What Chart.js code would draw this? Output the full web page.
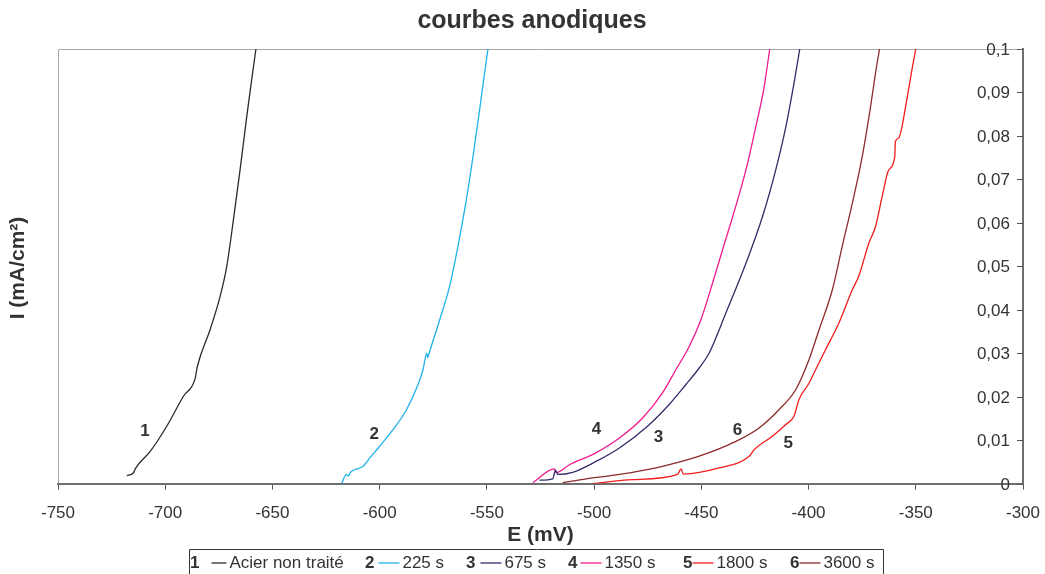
<!DOCTYPE html>
<html>
<head>
<meta charset="utf-8">
<script src="https://cdn.jsdelivr.net/npm/chart.js@4.4.1/dist/chart.umd.min.js"></script>
<style>
html,body{margin:0;padding:0;background:#fff;}
#wrap{width:1045px;height:574px;position:relative;}
</style>
</head>
<body>
<div id="wrap"><canvas id="c" width="1045" height="574"></canvas></div>
<script>
// ---- data ----
const chartTitle = 'courbes anodiques';
const xTitle = 'E (mV)';
const yTitle = 'I (mA/cm²)';
const seriesNumbers = ['1', '2', '3', '4', '5', '6'];
const seriesNames = ['Acier non traité', '225 s', '675 s', '1350 s', '1800 s', '3600 s'];
const seriesColors = ['#2b2b2b', '#1fb1ea', '#2e2e6b', '#ee1b8c', '#f21d1d', '#8e2b2b'];

const xTickValues = [-750, -700, -650, -600, -550, -500, -450, -400, -350, -300];
const yTickLabels = ['0', '0,01', '0,02', '0,03', '0,04', '0,05', '0,06', '0,07', '0,08', '0,09', '0,1'];

const e1 = [-717.9, -714.8, -714.0, -707.0, -699.3, -691.5, -686.1, -685.0, -679.1, -674.4, -671.3, -668.2, -665.1, -662.0, -659.7, -657.7];
const i1 = [0.0018, 0.0025, 0.0034, 0.0074, 0.0132, 0.0201, 0.0241, 0.0270, 0.0354, 0.0431, 0.0500, 0.0607, 0.0722, 0.0844, 0.0929, 0.1000];

const e2 = [-617.8, -615.5, -614.7, -613.6, -607.7, -604.6, -600.0, -593.8, -587.5, -582.1, -579.8, -578.0, -577.6, -576.7, -572.0, -567.4, -563.5, -559.6, -556.5, -553.4, -551.1, -549.5];
const i2 = [0.0000, 0.0021, 0.0017, 0.0026, 0.0040, 0.0059, 0.0086, 0.0124, 0.0170, 0.0228, 0.0262, 0.0300, 0.0290, 0.0304, 0.0377, 0.0454, 0.0546, 0.0653, 0.0752, 0.0860, 0.0944, 0.1000];

const e3 = [-525.5, -519.3, -518.0, -516.9, -510.0, -499.1, -488.2, -475.1, -465.0, -457.2, -451.0, -446.4, -438.6, -429.2, -421.5, -415.3, -410.6, -406.8, -404.1];
const i3 = [0.0008, 0.0011, 0.0031, 0.0021, 0.0026, 0.0051, 0.0082, 0.0132, 0.0182, 0.0228, 0.0266, 0.0300, 0.0392, 0.0507, 0.0614, 0.0722, 0.0821, 0.0921, 0.1000];

const e4 = [-528.6, -518.5, -517.7, -511.3, -499.9, -488.2, -477.4, -468.1, -461.9, -455.6, -450.2, -444.8, -440.1, -435.4, -429.2, -424.6, -420.7, -418.1];
const i4 = [0.0002, 0.0034, 0.0025, 0.0044, 0.0069, 0.0105, 0.0151, 0.0209, 0.0262, 0.0316, 0.0377, 0.0461, 0.0538, 0.0614, 0.0722, 0.0821, 0.0913, 0.1000];

const e5 = [-500.7, -482.0, -461.1, -459.5, -458.4, -441.7, -427.7, -425.4, -416.9, -410.6, -406.8, -404.5, -399.8, -396.7, -392.1, -385.9, -379.6, -376.6, -371.9, -368.8, -365.7, -362.6, -359.8, -359.5, -358.0, -354.2, -351.8, -350.0];
const i5 = [0.0000, 0.0009, 0.0021, 0.0034, 0.0022, 0.0036, 0.0063, 0.0078, 0.0109, 0.0136, 0.0155, 0.0193, 0.0231, 0.0262, 0.0308, 0.0369, 0.0446, 0.0477, 0.0553, 0.0591, 0.0660, 0.0722, 0.0752, 0.0787, 0.0795, 0.0883, 0.0952, 0.1000];

const e6 = [-514.6, -503.7, -488.2, -469.6, -451.0, -433.9, -423.1, -413.8, -406.0, -399.8, -395.1, -388.9, -384.3, -379.6, -375.0, -371.1, -368.8, -366.9];
const i6 = [0.0002, 0.0011, 0.0021, 0.0038, 0.0063, 0.0097, 0.0128, 0.0170, 0.0216, 0.0285, 0.0354, 0.0446, 0.0546, 0.0645, 0.0752, 0.0867, 0.0944, 0.1000];

// curve number labels placed beside the curves (data coordinates)
const curveLabelE = [-709.4, -602.5, -470.0, -498.9, -409.5, -433.2];
const curveLabelI = [0.0120, 0.0113, 0.0106, 0.0126, 0.0092, 0.0122];

// ---- build ----
const allE = [e1, e2, e3, e4, e5, e6];
const allI = [i1, i2, i3, i4, i5, i6];
const FONT = '"Liberation Sans", Arial, sans-serif';
const TXT = '#333333';

// legend layout (style only)
const legendItemX = [190, 365, 466, 568, 683, 790];
const legendGap = [12, 4, 5, 3, 0, 0];
const legendLineLen = [15, 21, 21, 21, 21, 21];

const datasets = allE.map((es, k) => ({
  label: seriesNames[k],
  data: es.map((e, j) => ({x: e, y: allI[k][j]})),
  borderColor: seriesColors[k],
  backgroundColor: seriesColors[k],
  borderWidth: 1.3,
  pointRadius: 0,
  showLine: true,
  cubicInterpolationMode: 'monotone',
  fill: false
}));

const decorPlugin = {
  id: 'decor',
  beforeDatasetsDraw(chart) {
    const {ctx, chartArea: a} = chart;
    ctx.save();
    ctx.strokeStyle = '#a8a8a8';
    ctx.lineWidth = 1;
    ctx.beginPath();
    ctx.moveTo(a.left + 0.5, a.bottom);
    ctx.lineTo(a.left + 0.5, a.top + 0.5);
    ctx.lineTo(a.right, a.top + 0.5);
    ctx.stroke();
    ctx.restore();
  },
  afterDraw(chart) {
    const {ctx, chartArea: a} = chart;
    const ys = chart.scales.y;
    const xs = chart.scales.x;
    ctx.save();
    // inward y tick marks and y tick labels
    ctx.strokeStyle = '#555';
    ctx.lineWidth = 1;
    ctx.fillStyle = TXT;
    ctx.font = '17px ' + FONT;
    ctx.textAlign = 'right';
    ctx.textBaseline = 'middle';
    ys.ticks.forEach((t, idx) => {
      const py = Math.round(ys.getPixelForTick(idx)) + 0.5;
      ctx.beginPath();
      ctx.moveTo(a.right - 6, py);
      ctx.lineTo(a.right, py);
      ctx.stroke();
      ctx.fillText(yTickLabels[idx], a.right - 13, py + 1);
    });
    // title
    ctx.textAlign = 'center';
    ctx.font = 'bold 25px ' + FONT;
    ctx.fillText(chartTitle, 532, 21);
    // x title
    ctx.font = 'bold 21px ' + FONT;
    ctx.fillText(xTitle, (a.left + a.right) / 2, 535);
    // y title
    ctx.save();
    ctx.translate(18, 268);
    ctx.rotate(-Math.PI / 2);
    ctx.fillText(yTitle, 0, 0);
    ctx.restore();
    // curve number labels
    ctx.font = 'bold 17px ' + FONT;
    curveLabelE.forEach((e, k) => {
      ctx.fillText(seriesNumbers[k], xs.getPixelForValue(e), ys.getPixelForValue(curveLabelI[k]));
    });
    // legend
    const lx0 = 189, ly0 = 549.5, lx1 = 883;
    ctx.strokeStyle = '#333';
    ctx.lineWidth = 1;
    ctx.beginPath();
    ctx.moveTo(lx0 + 0.5, 580);
    ctx.lineTo(lx0 + 0.5, ly0);
    ctx.lineTo(lx1 + 0.5, ly0);
    ctx.lineTo(lx1 + 0.5, 580);
    ctx.stroke();
    const ty = 563;
    ctx.textAlign = 'left';
    ctx.textBaseline = 'middle';
    seriesNumbers.forEach((n, k) => {
      let x = legendItemX[k];
      ctx.font = 'bold 17px ' + FONT;
      ctx.fillStyle = TXT;
      ctx.fillText(n, x, ty);
      x += ctx.measureText(n).width + legendGap[k];
      const len = legendLineLen[k];
      ctx.strokeStyle = seriesColors[k];
      ctx.lineWidth = 1.3;
      ctx.beginPath();
      ctx.moveTo(x, ty);
      ctx.lineTo(x + len, ty);
      ctx.stroke();
      x += len + 3;
      ctx.font = '17px ' + FONT;
      ctx.fillStyle = TXT;
      ctx.fillText(seriesNames[k], x, ty);
    });
    ctx.restore();
  }
};

new Chart(document.getElementById('c'), {
  type: 'scatter',
  data: {datasets},
  options: {
    responsive: false,
    animation: false,
    events: [],
    layout: {padding: {left: 58, right: 22, top: 49, bottom: 36}},
    plugins: {legend: {display: false}, title: {display: false}, tooltip: {enabled: false}},
    scales: {
      x: {
        type: 'linear',
        min: -750, max: -300,
        afterBuildTicks(scale) { scale.ticks = xTickValues.map(v => ({value: v})); },
        afterFit(scale) { scale.paddingLeft = 0; scale.paddingRight = 0; },
        ticks: {
          color: TXT, font: {family: FONT, size: 17}, padding: 14,
          callback: v => String(v)
        },
        grid: {drawOnChartArea: false, drawTicks: true, tickLength: 6, color: '#555', lineWidth: 1},
        border: {display: true, color: '#6e6e6e', width: 2}
      },
      y: {
        type: 'linear',
        position: 'right',
        min: 0, max: 0.1,
        afterFit(scale) { scale.width = 0; scale.paddingTop = 0; scale.paddingBottom = 0; },
        ticks: {stepSize: 0.01, display: false},
        grid: {drawOnChartArea: false, drawTicks: false},
        border: {display: true, color: '#6e6e6e', width: 2}
      }
    }
  },
  plugins: [decorPlugin]
});
</script>
</body>
</html>
